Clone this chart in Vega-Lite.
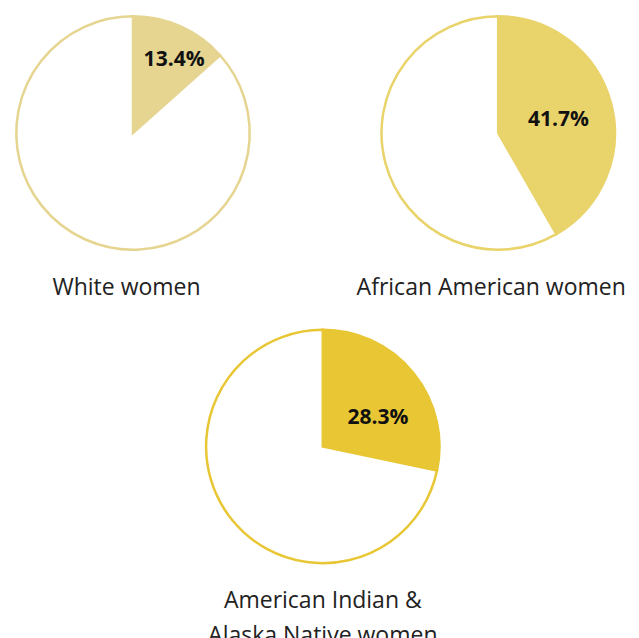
{
  "$schema": "https://vega.github.io/schema/vega-lite/v6.json",
  "autosize": {"type": "pad"},
  "padding": {"left": 11, "top": 11, "right": 5, "bottom": 5},
  "background": "white",
  "datasets": {
    "pies": [
      {"group": "White women", "part": "share", "rank": 1, "value": 13.4, "label": "13.4%"},
      {"group": "White women", "part": "rest", "rank": 2, "value": 86.6, "label": ""},
      {"group": "African American women", "part": "share", "rank": 1, "value": 41.7, "label": "41.7%"},
      {"group": "African American women", "part": "rest", "rank": 2, "value": 58.3, "label": ""},
      {"group": "American Indian & Alaska Native women", "part": "share", "rank": 1, "value": 28.3, "label": "28.3%"},
      {"group": "American Indian & Alaska Native women", "part": "rest", "rank": 2, "value": 71.7, "label": ""}
    ]
  },
  "data": {"name": "pies"},
  "spacing": 24.5,
  "resolve": {"scale": {"color": "independent"}},
  "vconcat": [
    {
      "hconcat": [
        {
          "width": 236, "height": 236,
          "transform": [{"filter": "datum.group === 'White women'"}],
          "title": {"text": "White women", "orient": "bottom", "offset": 22, "dx": -6.5},
          "layer": [
            {
              "mark": {"type": "arc", "outerRadius": 116.7, "stroke": "#e5d591", "strokeWidth": 2.5},
              "encoding": {
                "theta": {"field": "value", "type": "quantitative", "stack": true},
                "order": {"field": "rank", "type": "quantitative"},
                "color": {"field": "part", "type": "nominal", "scale": {"domain": ["share", "rest"], "range": ["#e5d591", "#ffffff"]}, "legend": null}
              }
            },
            {
              "mark": {"type": "text", "radius": 80, "dx": 8.4, "dy": 0.5, "fontSize": 21, "fontWeight": "bold", "font": "Open Sans", "color": "#111111", "align": "center", "baseline": "middle"},
              "encoding": {
                "theta": {"field": "value", "type": "quantitative", "stack": true},
                "order": {"field": "rank", "type": "quantitative"},
                "text": {"field": "label"}
              }
            }
          ]
        },
        {
          "width": 236, "height": 236,
          "transform": [{"filter": "datum.group === 'African American women'"}],
          "title": {"text": "African American women", "orient": "bottom", "offset": 22, "dx": -7},
          "layer": [
            {
              "mark": {"type": "arc", "outerRadius": 116.7, "stroke": "#e9d36b", "strokeWidth": 2.5},
              "encoding": {
                "theta": {"field": "value", "type": "quantitative", "stack": true},
                "order": {"field": "rank", "type": "quantitative"},
                "color": {"field": "part", "type": "nominal", "scale": {"domain": ["share", "rest"], "range": ["#e9d36b", "#ffffff"]}, "legend": null}
              }
            },
            {
              "mark": {"type": "text", "radius": 62, "dx": 0.4, "dy": 3, "fontSize": 21, "fontWeight": "bold", "font": "Open Sans", "color": "#111111", "align": "center", "baseline": "middle"},
              "encoding": {
                "theta": {"field": "value", "type": "quantitative", "stack": true},
                "order": {"field": "rank", "type": "quantitative"},
                "text": {"field": "label"}
              }
            }
          ]
        }
      ],
      "bounds": "flush",
      "spacing": 129.2,
      "resolve": {"scale": {"color": "independent"}}
    },
    {
      "width": 615.6, "height": 236,
      "transform": [{"filter": "datum.group === 'American Indian & Alaska Native women'"}],
      "title": {"text": ["American Indian &", "Alaska Native women"], "orient": "bottom", "offset": 22, "lineHeight": 35},
      "layer": [
        {
          "mark": {"type": "arc", "outerRadius": 116.7, "stroke": "#e8c634", "strokeWidth": 2.5},
          "encoding": {
            "theta": {"field": "value", "type": "quantitative", "stack": true},
            "order": {"field": "rank", "type": "quantitative"},
            "color": {"field": "part", "type": "nominal", "scale": {"domain": ["share", "rest"], "range": ["#e8c634", "#ffffff"]}, "legend": null}
          }
        },
        {
          "mark": {"type": "text", "radius": 60, "dx": 8.6, "dy": 9.5, "fontSize": 21, "fontWeight": "bold", "font": "Open Sans", "color": "#111111", "align": "center", "baseline": "middle"},
          "encoding": {
            "theta": {"field": "value", "type": "quantitative", "stack": true},
            "order": {"field": "rank", "type": "quantitative"},
            "text": {"field": "label"}
          }
        }
      ]
    }
  ],
  "config": {
    "view": {"stroke": null},
    "title": {"font": "Open Sans", "fontSize": 23, "fontWeight": "normal", "color": "#222222", "anchor": "middle"}
  }
}
